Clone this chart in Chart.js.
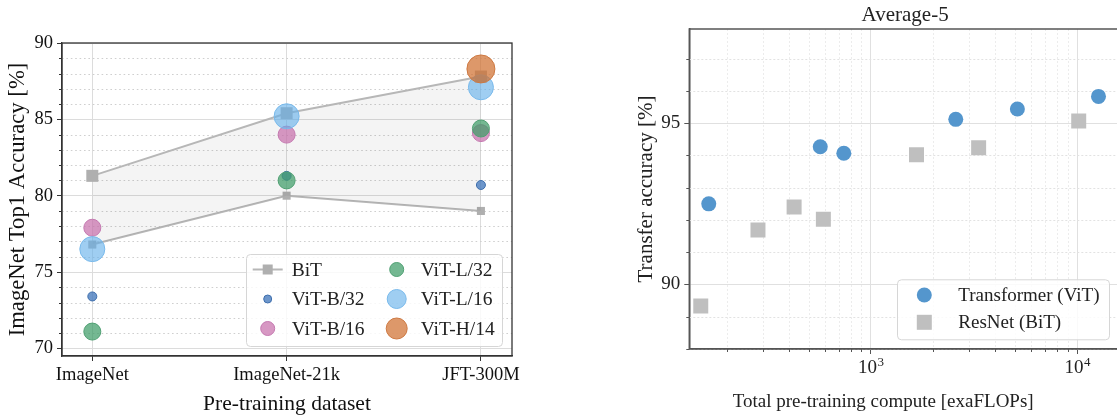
<!DOCTYPE html>
<html>
<head>
<meta charset="utf-8">
<script src="https://cdn.jsdelivr.net/npm/chart.js@4.4.1/dist/chart.umd.min.js"></script>
<style>
    html, body { margin: 0; padding: 0; background: #fff; }
    body { width: 1117px; height: 418px; overflow: hidden; position: relative; }
    .panel { position: absolute; top: 0; height: 418px; }
    #leftPanel { left: 0; width: 540px; }
    #rightPanel { left: 600px; width: 540px; }
</style>
</head>
<body>
<div id="leftPanel" class="panel"><canvas id="datasetChart"></canvas></div>
<div id="rightPanel" class="panel"><canvas id="computeChart"></canvas></div>

<script>
// Left panel: ImageNet top-1 accuracy per pre-training dataset
const pretrainSets = ['ImageNet', 'ImageNet-21k', 'JFT-300M'];
const accuracyTicks = [70, 75, 80, 85, 90];
const bitUpper = [81.3, 85.4, 87.8];
const bitLower = [76.8, 80.0, 79.0];
const vitB32 = [73.4, 81.3, 80.7];
const vitB16 = [77.9, 84.0, 84.1];
const vitL32 = [71.1, 81.0, 84.4];
const vitL16 = [76.5, 85.2, 87.1];
const vitH14 = [null, null, 88.3];

// Right panel: Average-5 transfer accuracy against pre-training compute
const computeTicks = [1e3, 1e4];
const computeTickExponents = ['3', '4'];
const transferTicks = [90, 95];
const vitCompute = [164, 569, 740, 2580, 5130, 12680];
const vitTransfer = [92.5, 94.27, 94.07, 95.12, 95.44, 95.83];
const bitCompute = [150, 284, 425, 589, 1665, 3330, 10170];
const bitTransfer = [89.33, 91.69, 92.4, 92.02, 94.02, 94.24, 95.07];

const SERIF = "'Liberation Serif', 'DejaVu Serif', serif";
Chart.defaults.font.family = SERIF;
Chart.defaults.color = '#222';

function toPoints(values) {
    return values.map((v, i) => ({ x: i, y: v })).filter(p => p.y !== null);
}

function pairPoints(xs, ys) {
    return xs.map((x, i) => ({ x: x, y: ys[i] }));
}

// every unit step between the labelled ticks
function minorSteps(lo, hi, majors) {
    const out = [];
    for (let v = lo; v <= hi; v++) {
        if (!majors.includes(v)) out.push(v);
    }
    return out;
}

// 2..9 times each decade, kept inside the axis range
function logMinors(decades, lo, hi) {
    const out = [];
    decades.forEach(d => {
        for (let m = 2; m <= 9; m++) {
            const v = d * m;
            if (v > lo && v < hi) out.push(v);
        }
    });
    return out;
}

// Minor grid, minor ticks, full frame, power-of-ten labels and free-placed titles
const axesDecor = {
    id: 'axesDecor',
    beforeDatasetsDraw(chart, args, opts) {
        const { ctx, chartArea: a, scales } = chart;
        ctx.save();
        ctx.lineWidth = 1;
        ctx.strokeStyle = opts.minorColor;
        ctx.setLineDash(opts.minorDash);
        (opts.yMinor || []).forEach(v => {
            const y = Math.round(scales.y.getPixelForValue(v)) + 0.5;
            ctx.beginPath();
            ctx.moveTo(a.left, y);
            ctx.lineTo(a.right, y);
            ctx.stroke();
        });
        ctx.strokeStyle = opts.minorColorX || opts.minorColor;
        (opts.xMinor || []).forEach(v => {
            const x = Math.round(scales.x.getPixelForValue(v)) + 0.5;
            ctx.beginPath();
            ctx.moveTo(x, a.top);
            ctx.lineTo(x, a.bottom);
            ctx.stroke();
        });
        ctx.restore();
    },
    afterDraw(chart, args, opts) {
        const { ctx, chartArea: a, scales } = chart;
        ctx.save();
        ctx.strokeStyle = opts.frameColor;
        ctx.lineWidth = opts.frameWidth;
        ctx.strokeRect(a.left, a.top, a.right - a.left, a.bottom - a.top);

        ctx.lineWidth = 1;
        (opts.yMinor || []).forEach(v => {
            const y = Math.round(scales.y.getPixelForValue(v)) + 0.5;
            ctx.beginPath();
            ctx.moveTo(a.left - 3, y);
            ctx.lineTo(a.left, y);
            ctx.stroke();
        });
        (opts.xMinor || []).forEach(v => {
            const x = Math.round(scales.x.getPixelForValue(v)) + 0.5;
            ctx.beginPath();
            ctx.moveTo(x, a.bottom);
            ctx.lineTo(x, a.bottom + 3);
            ctx.stroke();
        });

        ctx.fillStyle = '#222';
        ctx.textBaseline = 'alphabetic';

        // 10 with a raised exponent under each major log tick
        const pw = opts.powers;
        if (pw) {
            pw.values.forEach((v, i) => {
                const x = scales.x.getPixelForValue(v);
                const y = a.bottom + pw.dy;
                ctx.font = pw.size + 'px ' + SERIF;
                const wBase = ctx.measureText('10').width;
                ctx.font = pw.supSize + 'px ' + SERIF;
                const wSup = ctx.measureText(pw.exps[i]).width;
                const x0 = x - (wBase + wSup) / 2;
                ctx.textAlign = 'left';
                ctx.font = pw.size + 'px ' + SERIF;
                ctx.fillText('10', x0, y);
                ctx.font = pw.supSize + 'px ' + SERIF;
                ctx.fillText(pw.exps[i], x0 + wBase + 0.5, y - pw.raise);
            });
        }

        ctx.textAlign = 'center';
        (opts.texts || []).forEach(t => {
            ctx.font = t.size + 'px ' + SERIF;
            const cx = (a.left + a.right) / 2 + t.dx;
            const y = t.anchor === 'top' ? a.top + t.dy : a.bottom + t.dy;
            ctx.fillText(t.text, cx, y);
        });
        ctx.restore();
    }
};

// Legend box inside the plot, lower right corner, column-major items
const boxLegend = {
    id: 'boxLegend',
    afterDraw(chart, args, opts) {
        const { ctx, chartArea: a } = chart;
        const left = a.right - opts.right - opts.width;
        const top = a.bottom - opts.bottom - opts.height;
        ctx.save();
        ctx.beginPath();
        ctx.roundRect(left + 0.5, top + 0.5, opts.width, opts.height, 4);
        ctx.fillStyle = 'rgba(255,255,255,0.82)';
        ctx.fill();
        ctx.strokeStyle = '#d6d6d6';
        ctx.lineWidth = 1;
        ctx.stroke();

        ctx.font = opts.fontSize + 'px ' + SERIF;
        ctx.textBaseline = 'middle';
        ctx.textAlign = 'left';
        opts.items.forEach((item, k) => {
            const col = Math.floor(k / opts.rows);
            const row = k % opts.rows;
            const cx = left + opts.markerX[col];
            const cy = top + opts.firstRow + row * opts.rowGap;
            const ds = chart.data.datasets[item.dataset];
            if (item.kind === 'line') {
                ctx.strokeStyle = ds.borderColor;
                ctx.lineWidth = 2;
                ctx.beginPath();
                ctx.moveTo(cx - 15, cy);
                ctx.lineTo(cx + 15, cy);
                ctx.stroke();
            }
            if (item.kind === 'circle') {
                ctx.beginPath();
                ctx.arc(cx, cy, item.r, 0, Math.PI * 2);
                ctx.fillStyle = ds.pointBackgroundColor;
                ctx.fill();
                if (ds.pointBorderWidth) {
                    ctx.strokeStyle = ds.pointBorderColor;
                    ctx.lineWidth = ds.pointBorderWidth;
                    ctx.stroke();
                }
            } else {
                ctx.fillStyle = ds.pointBackgroundColor;
                ctx.fillRect(cx - item.r, cy - item.r, item.r * 2, item.r * 2);
            }
            ctx.fillStyle = '#222';
            ctx.fillText(item.label || ds.label, left + opts.textX[col], cy + 1);
        });
        ctx.restore();
    }
};

function vitDataset(label, values, fill, edge, radius, order) {
    return {
        label: label,
        data: toPoints(values),
        pointBackgroundColor: fill,
        pointBorderColor: edge,
        pointBorderWidth: 1,
        pointRadius: radius,
        showLine: false,
        order: order
    };
}

function bitDataset(values, radius, fill, order) {
    return {
        label: 'BiT',
        data: toPoints(values),
        showLine: true,
        tension: 0,
        borderColor: '#b7b7b7',
        borderWidth: 2,
        backgroundColor: 'rgba(0,0,0,0.045)',
        fill: fill,
        pointStyle: 'rect',
        pointRadius: radius,
        pointBackgroundColor: '#afafaf',
        pointBorderWidth: 0,
        order: order
    };
}

function initDatasetChart() {
    const ctx = document.getElementById('datasetChart').getContext('2d');
    new Chart(ctx, {
        type: 'scatter',
        data: {
            datasets: [
                bitDataset(bitUpper, 8.5, '+1', 10),
                bitDataset(bitLower, 5.7, false, 11),
                vitDataset('ViT-B/32', vitB32, 'rgba(72,124,190,0.8)', 'rgb(62,110,172)', 4.5, 6),
                vitDataset('ViT-B/16', vitB16, 'rgba(200,112,172,0.72)', 'rgb(196,120,176)', 8.5, 5),
                vitDataset('ViT-L/32', vitL32, 'rgba(62,156,104,0.72)', 'rgb(80,160,115)', 8.5, 4),
                vitDataset('ViT-L/16', vitL16, 'rgba(100,176,234,0.62)', 'rgb(120,185,235)', 12.5, 3),
                vitDataset('ViT-H/14', vitH14, 'rgba(208,112,48,0.72)', 'rgb(205,120,65)', 14, 2)
            ]
        },
        options: {
            responsive: true,
            maintainAspectRatio: false,
            animation: false,
            events: [],
            layout: { padding: { left: 0, top: 43, right: 28, bottom: 0 } },
            plugins: {
                legend: { display: false },
                tooltip: { enabled: false },
                axesDecor: {
                    yMinor: minorSteps(70, 89, accuracyTicks),
                    minorColor: '#cfcfcf',
                    minorDash: [1.6, 2.8],
                    frameColor: '#333',
                    frameWidth: 1.3
                },
                boxLegend: {
                    right: 10, bottom: 10, width: 256, height: 92,
                    rows: 3, firstRow: 15.5, rowGap: 29.5,
                    markerX: [21.7, 150.7], textX: [45.7, 174.7],
                    fontSize: 19.5,
                    items: [
                        { dataset: 0, kind: 'line', r: 5 },
                        { dataset: 2, kind: 'circle', r: 4 },
                        { dataset: 3, kind: 'circle', r: 7 },
                        { dataset: 4, kind: 'circle', r: 7 },
                        { dataset: 5, kind: 'circle', r: 9.5 },
                        { dataset: 6, kind: 'circle', r: 10.5 }
                    ]
                }
            },
            scales: {
                x: {
                    type: 'linear',
                    min: -0.156,
                    max: 2.16,
                    afterBuildTicks: s => { s.ticks = pretrainSets.map((_, i) => ({ value: i })); },
                    afterFit: s => { s.height = 62; },
                    ticks: {
                        callback: v => pretrainSets[v],
                        font: { size: 18.5 },
                        color: '#111',
                        padding: 3,
                        maxRotation: 0,
                        autoSkip: false
                    },
                    grid: { color: '#dcdcdc', tickColor: '#333', tickLength: 5 },
                    border: { color: '#333', width: 1.3 },
                    title: {
                        display: true,
                        text: 'Pre-training dataset',
                        font: { size: 21.5 },
                        color: '#111',
                        padding: { top: 0, bottom: 1 }
                    }
                },
                y: {
                    min: 69.5,
                    max: 90,
                    afterBuildTicks: s => { s.ticks = accuracyTicks.map(v => ({ value: v })); },
                    afterFit: s => { s.width = 62; },
                    ticks: { font: { size: 18.5 }, color: '#111', padding: 4 },
                    grid: { color: '#dcdcdc', tickColor: '#333', tickLength: 5 },
                    border: { color: '#333', width: 1.3 },
                    title: {
                        display: true,
                        text: 'ImageNet Top1 Accuracy [%]',
                        font: { size: 22.7 },
                        color: '#111',
                        padding: { top: 4.6, bottom: 0 }
                    }
                }
            }
        },
        plugins: [axesDecor, boxLegend]
    });
}

function initComputeChart() {
    const ctx = document.getElementById('computeChart').getContext('2d');
    const xMin = 132;
    const xMax = 16300;
    new Chart(ctx, {
        type: 'scatter',
        data: {
            datasets: [
                {
                    label: 'Transformer (ViT)',
                    data: pairPoints(vitCompute, vitTransfer),
                    pointRadius: 7.5,
                    pointBackgroundColor: 'rgb(84,150,205)',
                    pointBorderWidth: 0,
                    order: 1
                },
                {
                    label: 'ResNet (BiT)',
                    data: pairPoints(bitCompute, bitTransfer),
                    pointStyle: 'rect',
                    pointRadius: 10.6,
                    pointBackgroundColor: 'rgb(191,191,191)',
                    pointBorderWidth: 0,
                    order: 2
                }
            ]
        },
        options: {
            responsive: true,
            maintainAspectRatio: false,
            animation: false,
            events: [],
            layout: { padding: { left: 0, top: 29, right: 19, bottom: 0 } },
            plugins: {
                legend: { display: false },
                tooltip: { enabled: false },
                axesDecor: {
                    yMinor: minorSteps(88, 97, transferTicks),
                    xMinor: logMinors([100, 1000, 10000], xMin, xMax),
                    minorColor: '#e2e2e2',
                    minorColorX: '#ececec',
                    minorDash: [2, 2],
                    frameColor: '#555',
                    frameWidth: 1.5,
                    powers: { values: computeTicks, exps: computeTickExponents, size: 19, supSize: 13, dy: 23.5, raise: 7 },
                    texts: [
                        { text: 'Average-5', size: 21, anchor: 'top', dx: 0, dy: -8 },
                        { text: 'Total pre-training compute [exaFLOPs]', size: 19, anchor: 'bottom', dx: -22, dy: 57.5 }
                    ]
                },
                boxLegend: {
                    right: 12, bottom: 9.7, width: 212, height: 60,
                    rows: 2, firstRow: 15.7, rowGap: 27.3,
                    markerX: [27.3], textX: [61.3],
                    fontSize: 19,
                    items: [
                        { dataset: 0, kind: 'circle', r: 7.5 },
                        { dataset: 1, kind: 'rect', r: 7.5 }
                    ]
                }
            },
            scales: {
                x: {
                    type: 'logarithmic',
                    min: xMin,
                    max: xMax,
                    afterBuildTicks: s => { s.ticks = computeTicks.map(v => ({ value: v })); },
                    afterFit: s => { s.height = 69; },
                    ticks: { display: false },
                    grid: { color: '#e0e0e0', tickColor: '#555', tickLength: 5 },
                    border: { color: '#555', width: 1.5 }
                },
                y: {
                    min: 88,
                    max: 97.92,
                    afterBuildTicks: s => { s.ticks = transferTicks.map(v => ({ value: v })); },
                    afterFit: s => { s.width = 89.3; },
                    ticks: { font: { size: 19 }, color: '#222', padding: 4 },
                    grid: { color: '#e0e0e0', tickColor: '#555', tickLength: 5 },
                    border: { color: '#555', width: 1.5 },
                    title: {
                        display: true,
                        text: 'Transfer accuracy [%]',
                        font: { size: 21 },
                        color: '#222',
                        padding: { top: 33.4, bottom: 0 }
                    }
                }
            }
        },
        plugins: [axesDecor, boxLegend]
    });
}

document.addEventListener('DOMContentLoaded', function() {
    initDatasetChart();
    initComputeChart();
});
</script>
</body>
</html>
